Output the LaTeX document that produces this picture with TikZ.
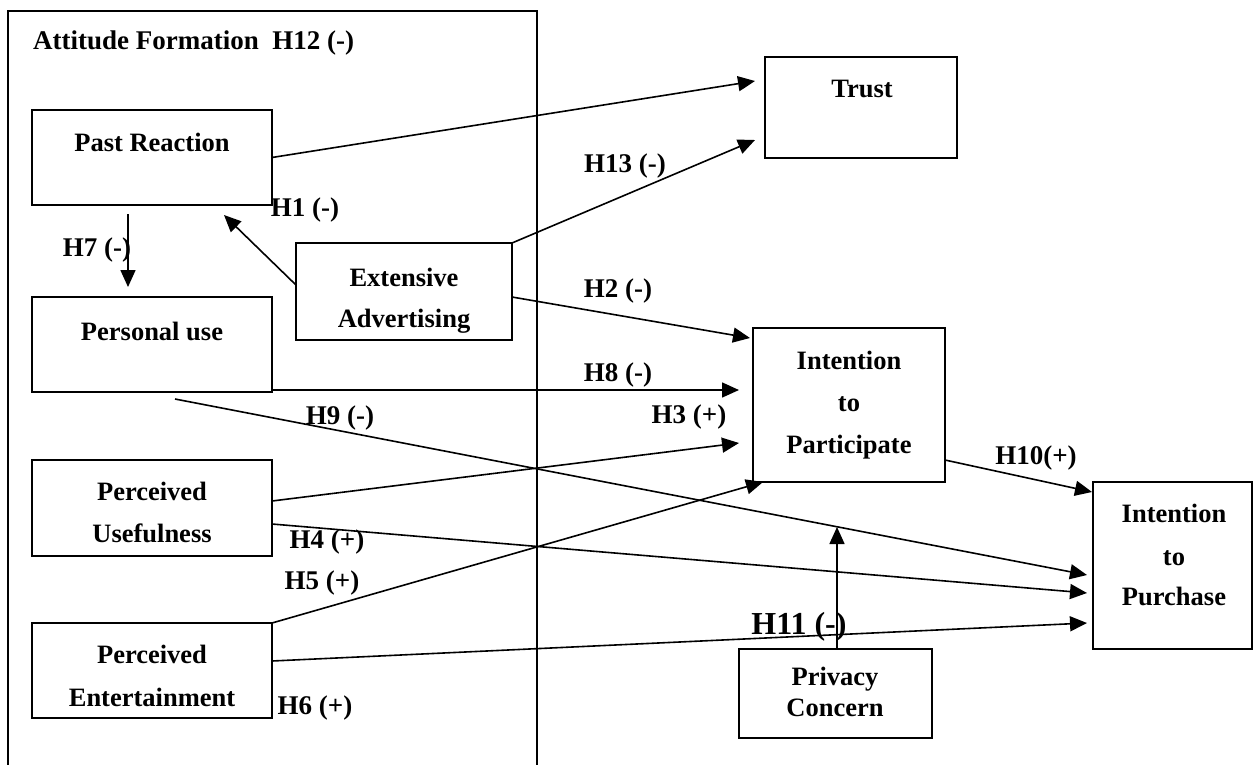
\documentclass[tikz,border=0pt]{standalone}
\usepackage{fontspec}
\setmainfont{Liberation Serif}
\usetikzlibrary{arrows.meta,calc}
\begin{document}
\begin{tikzpicture}[x=1pt,y=-1pt,
 box/.style={draw,line width=1.6pt,rectangle,inner sep=0pt,outer sep=0pt},
 txt/.style={anchor=base,font=\fontsize{26.5}{30}\selectfont\bfseries,inner sep=0pt},
 lbl/.style={anchor=base,font=\fontsize{27}{30}\selectfont\bfseries,inner sep=0pt},
 arr/.style={line width=1.6pt,-{Triangle[length=17pt,width=15pt]}},
 ln/.style={line width=1.6pt}]
\useasboundingbox (0,0) rectangle (1254,764);
% attitude formation frame
\draw[ln] (8,766) -- (8,11) -- (537,11) -- (537,766);
\node[lbl,anchor=base west] (af) at (33,49) {Attitude Formation\ \ H12 (-)};
% boxes
\node[box,minimum width=240pt,minimum height=95pt] (pr) at (152,157.5) {};
\node[box,minimum width=240pt,minimum height=95pt] (pu) at (152,344.5) {};
\node[box,minimum width=216pt,minimum height=97pt] (ea) at (404,291.5) {};
\node[box,minimum width=240pt,minimum height=96pt] (pus) at (152,508) {};
\node[box,minimum width=240pt,minimum height=95pt] (pe) at (152,670.5) {};
\node[box,minimum width=192pt,minimum height=101pt] (tr) at (861,107.5) {};
\node[box,minimum width=192pt,minimum height=154pt] (ip) at (849,405) {};
\node[box,minimum width=159pt,minimum height=167pt] (ipu) at (1172.5,565.5) {};
\node[box,minimum width=193pt,minimum height=89pt] (pc) at (835.5,693.5) {};
% box texts
\node[txt] (t1) at (152,151) {Past Reaction};
\node[txt] (t2) at (152,340) {Personal use};
\node[txt] (t3) at (404,286) {Extensive};
\node[txt] (t4) at (404,327) {Advertising};
\node[txt] (t5) at (152,500) {Perceived};
\node[txt] (t6) at (152,542) {Usefulness};
\node[txt] (t7) at (152,663) {Perceived};
\node[txt] (t8) at (152,706) {Entertainment};
\node[txt] (t9) at (862,97) {Trust};
\node[txt] (t10) at (849,369) {Intention};
\node[txt] (t11) at (849,411) {to};
\node[txt] (t12) at (849,453) {Participate};
\node[txt] (t13) at (1174,522) {Intention};
\node[txt] (t14) at (1174,565) {to};
\node[txt] (t15) at (1174,605) {Purchase};
\node[txt] (t16) at (835,685) {Privacy};
\node[txt] (t17) at (835,716) {Concern};
% connectors
\coordinate (h11tip) at (837,527);
\draw[arr] (pr.east) -- ($(tr.west)+(-10,-26.5)$);
\draw[arr] (ea.north east) -- ($(tr.west)+(-10,32.5)$);
\draw[arr] ($(ea.east)+(0,5.5)$) -- ($(ip.north west)+(-3,10)$);
\draw[arr] ($(ea.west)+(0,-6.5)$) -- ($(pr.south)+(72,10)$);
\draw[arr] ($(pr.south)+(-24,9)$) -- ($(pu.north)+(-24,-10)$);
\draw[arr] ($(pu.east)+(0,45.5)$) -- ($(ip.west)+(-14,-15)$);
\draw[arr] ($(pu.south)+(23,7)$) -- ($(ipu.west)+(-6,9.5)$);
\draw[arr] ($(pus.east)+(0,-7)$) -- ($(ip.west)+(-14,38)$);
\draw[arr] ($(pus.east)+(0,16)$) -- ($(ipu.west)+(-6,27.5)$);
\draw[arr] (pe.north east) -- ($(ip.south west)+(10,0)$);
\draw[arr] ($(pe.east)+(0,-9.5)$) -- ($(ipu.west)+(-6,57.5)$);
\draw[arr] ($(pc.north)+(1.5,0)$) -- (h11tip);
\draw[arr] ($(ip.east)+(0,55)$) -- ($(ipu.north west)+(-1,10)$);
% labels
\node[lbl] (h13) at (625,172) {H13 (-)};
\node[lbl] (h1) at (305,216) {H1 (-)};
\node[lbl] (h7) at (97,256) {H7 (-)};
\node[lbl] (h2) at (618,297) {H2 (-)};
\node[lbl] (h8) at (618,381) {H8 (-)};
\node[lbl] (h3) at (689,423) {H3 (+)};
\node[lbl] (h9) at (340,424) {H9 (-)};
\node[lbl] (h4) at (327,548) {H4 (+)};
\node[lbl] (h5) at (322,589) {H5 (+)};
\node[lbl] (h6) at (315,714) {H6 (+)};
\node[lbl] (h10) at (1036,464) {H10(+)};
\node[lbl,font=\fontsize{32}{36}\selectfont\bfseries] (h11) at (799,634) {H11 (-)};
\end{tikzpicture}
\end{document}
